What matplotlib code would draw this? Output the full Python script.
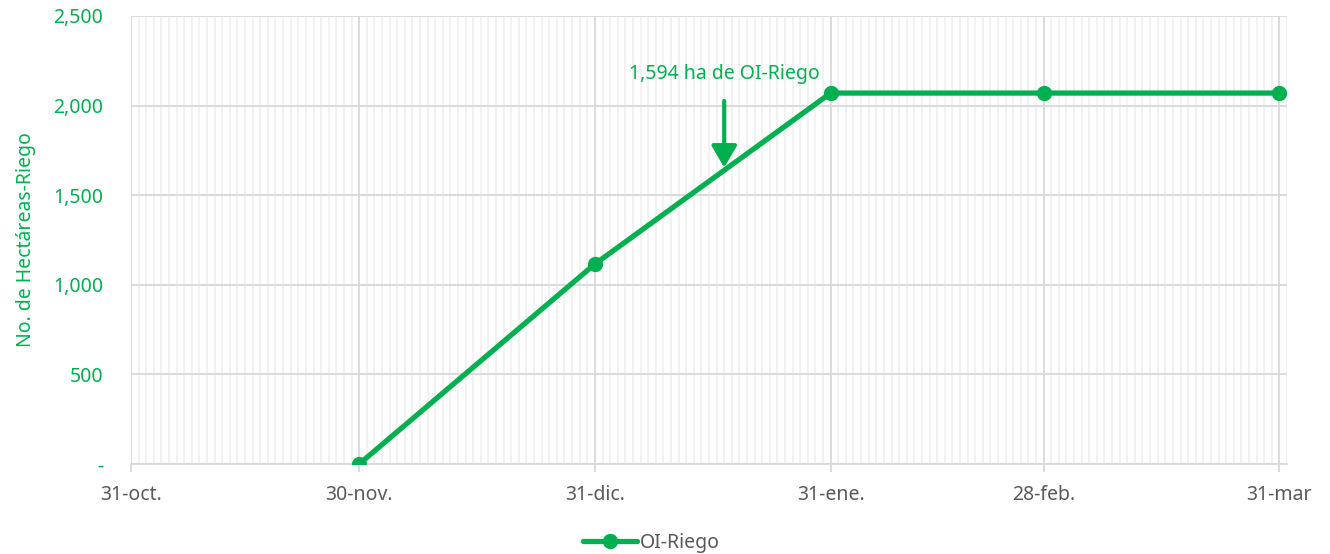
import matplotlib.pyplot as plt
import matplotlib.dates as mdates
import numpy as np
from matplotlib.ticker import FuncFormatter

plt.rcParams['font.family'] = ['Noto Sans', 'DejaVu Sans']

# datos
fechas = np.array(['2022-11-30', '2022-12-31', '2023-01-31', '2023-02-28', '2023-03-31'],
                  dtype='datetime64[D]')
hectareas = [0, 1116, 2070, 2070, 2070]
ticks_x = np.array(['2022-10-31', '2022-11-30', '2022-12-31', '2023-01-31',
                    '2023-02-28', '2023-03-31'], dtype='datetime64[D]')
etiquetas_x = ['31-oct.', '30-nov.', '31-dic.', '31-ene.', '28-feb.', '31-mar']
nota_fecha = np.datetime64('2023-01-17')
nota_valor = 1594
nota_texto = '1,594 ha de OI-Riego'

verde = '#00b050'
gris = '#595959'
fs = 14

fig = plt.figure(figsize=(13.3, 5.54), dpi=100)
ax = fig.add_axes([131 / 1330, 1 - 464 / 554, (1287 - 131) / 1330, (464 - 16) / 554])

ax.plot(fechas, hectareas, color=verde, lw=3.8, marker='o', ms=10, label='OI-Riego',
        solid_capstyle='round', zorder=3)

ax.set_xlim(np.datetime64('2022-10-31'), np.datetime64('2023-04-01'))
ax.set_ylim(0, 2500)

ax.set_xticks(ticks_x)
ax.set_xticklabels(etiquetas_x, color=gris, fontsize=fs)
ax.xaxis.set_minor_locator(mdates.DayLocator())
ax.set_yticks(range(0, 2501, 500))
ax.yaxis.set_major_formatter(FuncFormatter(lambda v, p: '-' if v == 0 else f'{int(v):,}'))
ax.tick_params(axis='y', colors=verde, labelsize=fs, length=0, pad=20)
ax.tick_params(axis='x', which='major', length=6, color='#d9d9d9', width=1.3, pad=9)
ax.tick_params(axis='x', which='minor', length=0)

ax.grid(axis='y', color='#d9d9d9', lw=1.3)
ax.grid(axis='x', which='major', color='#d9d9d9', lw=1.3)
ax.grid(axis='x', which='minor', color='#f0f0f0', lw=1.2)
ax.set_axisbelow(True)
for s in ['top', 'right', 'left']:
    ax.spines[s].set_visible(False)
ax.spines['bottom'].set_color('#d9d9d9')
ax.spines['bottom'].set_linewidth(1.3)

ax.set_ylabel('No. de Hectáreas-Riego', color=verde, fontsize=fs, labelpad=12)

ax.annotate(nota_texto, xy=(nota_fecha, nota_valor + 60), xytext=(0, 60),
            textcoords='offset points', ha='center', va='bottom', color=verde, fontsize=fs,
            arrowprops=dict(arrowstyle='-|>,head_length=0.6,head_width=0.35', color=verde,
                            lw=3, mutation_scale=22, shrinkA=10, shrinkB=0))

ax.legend(loc='upper center', bbox_to_anchor=(0.45, -0.115), frameon=False, fontsize=fs,
          labelcolor=gris, handlelength=2.8, handletextpad=0.1)

fig.savefig('out.png', dpi=100)
